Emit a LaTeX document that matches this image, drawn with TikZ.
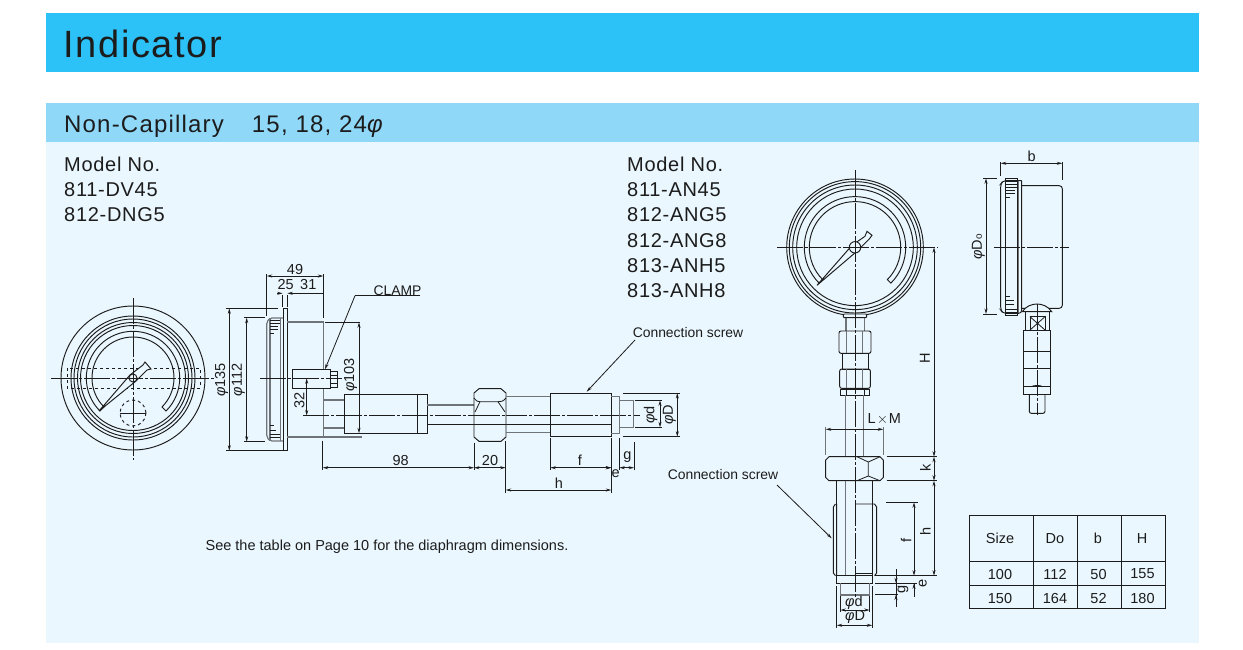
\documentclass[tikz,border=0pt]{standalone}
\usepackage{fontspec}
\setmainfont{Liberation Sans}
\usetikzlibrary{arrows.meta}
\definecolor{barA}{HTML}{2CC2F7}
\definecolor{barB}{HTML}{90D8F8}
\definecolor{panel}{HTML}{EAF7FE}
\definecolor{ink}{HTML}{1C1C1C}
\definecolor{soft}{HTML}{6E7478}
\newcommand{\ph}{{\itshape φ}}
\tikzset{
  lin/.style={draw=ink,line width=0.95pt},
  thin line/.style={draw=ink,line width=0.8pt},
  heavy/.style={draw=soft,line width=1.2pt},
  cl/.style={draw=ink,line width=0.9pt,dash pattern=on 26pt off 2pt on 3pt off 2pt},
  dim/.style={draw=ink,line width=0.8pt,{Stealth[length=5.5pt,width=3pt]}-{Stealth[length=5.5pt,width=3pt]}},
  tip/.style={draw=ink,line width=0.8pt,-{Stealth[length=5.5pt,width=3pt]}},
  lab/.style={text=ink,font=\fontsize{14.5}{14.5}\selectfont,inner sep=0pt},
  rlab/.style={lab,rotate=90},
  small/.style={lab,font=\fontsize{13.9}{13.9}\selectfont},
  model/.style={text=ink,font=\fontsize{20}{25.3}\selectfont\addfontfeature{LetterSpace=3.5},inner sep=0pt,anchor=north west,align=left},
}
\begin{document}
\begin{tikzpicture}[x=1pt,y=-1pt]
\useasboundingbox (0,0) rectangle (1243,649);
\fill[white] (0,0) rectangle (1243,649);
\fill[barA] (46,13) rectangle (1199,72);
\fill[panel] (46,142) rectangle (1199,643);
\fill[barB] (46,103) rectangle (1199,142);
\node[text=ink,font=\fontsize{38}{38}\selectfont\addfontfeature{LetterSpace=4.4},inner sep=0pt,anchor=west] (title) at (63,44) {Indicator};
\node[text=ink,font=\fontsize{24}{24}\selectfont\addfontfeature{LetterSpace=5},inner sep=0pt,anchor=west] (sub) at (64,126) {Non-Capillary\hspace{28pt}15, 18, 24\ph};
\node[model] (m1) at (64,156.5) {Model No.\\811-DV45\\812-DNG5};
\node[model] (m2) at (627,156.5) {Model No.\\811-AN45\\812-ANG5\\812-ANG8\\813-ANH5\\813-ANH8};
\node[lab,anchor=center] (see) at (387,546.5) {See the table on Page 10 for the diaphragm dimensions.};

% ---- left gauge front
\begin{scope}[shift={(133,378)}]
\foreach \r in {72,62,59,55.5,52.5}{\draw[lin] (0,0) circle (\r);}
\draw[lin] (135:46.7) arc (135:405:46.7) -- (45:41) arc (405:135:41) -- cycle;
\draw[lin,dashed] (-66,-10) rectangle (67,10);
\draw[lin,dashed] (0,35) circle (13);
\draw[cl] (0,35) ++(-13,0) -- ++(26,0);
\draw[lin,fill=panel] (-34,33) -- (-3,-3) -- (10,-13) -- (12,-16) -- (18,-9) -- (14,-8) -- (3,3) -- cycle;
\draw[lin,fill=panel] (0,0) circle (4);
\draw[cl] (-82,0) -- (82,0);
\draw[cl] (0,-80) -- (0,82);
\end{scope}

% ---- left gauge side
\draw[lin] (283.3,308.3) rectangle (287.3,450.7);
\draw[heavy,rounded corners=2pt] (283,318) -- (270,318) -- (266.7,322) -- (266.7,437) -- (270,441) -- (283,441);
\draw[heavy] (270,318) -- (270,441) (280.7,318) -- (280.7,441);
\foreach \y/\w in {320/10,323/10,326/8,329/8,333/4,425/4,430/6,434/10,437/10}{\draw[thin line] (270,\y) -- ++(\w,0);}
\draw[heavy] (287.3,322) -- (323.3,322) -- (323.3,437) -- (287.3,437);
\draw[lin,fill=panel] (292,369) rectangle (330,388);
\draw[lin,fill=panel] (330,371) rectangle (337.3,387);
\draw[thin line] (330,375) -- (337.3,375) (330,383) -- (337.3,383);
\draw[cl] (260,378) -- (342,378);
\draw[heavy] (323.3,400) -- (344,400) (323.3,428) -- (344,428);
\draw[lin] (344,394.3) rectangle (427,433);
\draw[thin line] (417.7,394.3) -- (417.7,433);
\draw[cl] (303.3,415.5) -- (640,415.5);
% tube and connector
\draw[heavy] (427,405) -- (474,405);
\draw[lin] (427,424) -- (611,424);
\draw[lin,fill=panel] (479,388.7) -- (501,388.7) -- (506,393) -- (506,437) -- (501,441.3) -- (479,441.3) -- (474,437) -- (474,393) -- cycle;
\draw[thin line] (474,398) .. controls (477,401.7) and (478,401.7) .. (480,401.7) -- (498,401.7) .. controls (501,401.7) and (503,401.7) .. (506,398);
\draw[thin line] (480,401.7) -- (475,412) (498,401.7) -- (505,412);
\draw[cl] (474,415.5) -- (506,415.5);
\draw[lin] (474,424) -- (506,424);
\draw[heavy] (506,396.7) -- (550,396.7) (506,432.7) -- (550,432.7);
\draw[lin] (550,393) rectangle (611,436.3);
\draw[heavy] (611,396.7) -- (619.3,396.7) -- (619.3,433.3) -- (611,433.3);
\draw[heavy] (619.3,400.3) -- (633.3,400.3) -- (633.3,427.3) -- (619.3,427.3);

% left dims
\draw[thin line] (266.7,274) -- (266.7,316) (323.3,274) -- (323.3,318);
\draw[thin line] (282.7,295) -- (282.7,307) (287.3,295) -- (287.3,307);
\draw[dim] (266.7,276) -- (323.3,276);
\draw[tip] (277,293.3) -- (282.7,293.3);
\draw[tip] (323.3,293.3) -- (287.3,293.3);
\node[lab] (d49) at (295,269.5) {49};
\node[lab] (d25) at (285.7,284.5) {25};
\node[lab] (d31) at (308.3,284.5) {31};
\draw[thin line] (226,308.3) -- (278,308.3) (226,450.7) -- (283,450.7);
\draw[thin line] (244,317.7) -- (265,317.7) (244,441.7) -- (265,441.7);
\draw[dim] (229.3,308.3) -- (229.3,450.7);
\draw[dim] (246.7,317.7) -- (246.7,441.7);
\node[rlab] (d135) at (221.5,380) {\ph135};
\node[rlab] (d112) at (238.3,380) {\ph112};
\draw[thin line] (325,322.3) -- (360,322.3);
\draw[heavy] (323,437) -- (361.7,437);
\draw[dim] (359,322.3) -- (359,433.3);
\node[rlab] (d103) at (350.5,375) {\ph103};
\draw[dim] (306.7,378.3) -- (306.7,415.5);
\node[rlab] (d32) at (299.5,400) {32};
\draw[thin line] (322.7,440.7) -- (322.7,470);
\draw[thin line] (474,442.7) -- (474,470) (505.7,441) -- (505.7,493.3);
\draw[thin line] (550.3,438) -- (550.3,470) (611.3,438) -- (611.3,492.7) (619.3,438) -- (619.3,470) (634,442) -- (634,470);
\draw[dim] (322.7,467.7) -- (474,467.7);
\draw[dim] (474,467.7) -- (505.7,467.7);
\draw[dim] (550.3,467.7) -- (611.3,467.7);
\draw[dim] (619.3,467.7) -- (634,467.7);
\draw[tip] (601,467.7) -- (611.3,467.7);
\draw[dim] (505.7,490) -- (611.3,490);
\node[lab] (d98) at (400.7,460) {98};
\node[lab] (d20) at (490,460) {20};
\node[lab] (df) at (580,460) {f};
\node[lab] (dg) at (627.3,457) {g};
\node[lab] (de) at (615.7,474) {e};
\node[lab] (dh) at (559,483.3) {h};
\draw[thin line] (623,393) -- (680,393) (623,436.7) -- (680,436.7);
\draw[thin line] (635,400.3) -- (662,400.3) (635,427.3) -- (662,427.3);
\draw[dim] (660,400.3) -- (660,427.3);
\draw[dim] (677.3,393) -- (677.3,436.7);
\node[rlab] (dd) at (650.5,415) {\ph d};
\node[rlab] (dD) at (669.3,415) {\ph D};
\node[small] (clamp) at (397.5,291) {CLAMP};
\coordinate (clampend) at (420,295.7);
\coordinate (clampknee) at (355,295.7);
\coordinate (clamptip) at (325,369.3);
\draw[thin line] (clampend) -- (clampknee);
\draw[tip] (clampknee) -- (clamptip);
\node[small] (cs1) at (688,333) {Connection screw};
\coordinate (cs1tip) at (586.7,391.7);
\draw[tip] (635,340) -- (cs1tip);

% ---- right gauge front
\begin{scope}[shift={(855,247.3)}]
\foreach \r in {68.3,65.7,62.3,58.3}{\draw[lin] (0,0) circle (\r);}
\draw[lin] (135:50.7) arc (135:405:50.7) -- (45:45.7) arc (405:135:45.7) -- cycle;
\draw[lin,fill=panel] (-38,38) -- (-3,-2) -- (10,-11) -- (12,-16) -- (17,-12) -- (14,-8) -- (3,3) -- cycle;
\draw[lin,fill=panel] (0,0) circle (5.7);
\draw[cl] (-78,0) -- (83,0);
\end{scope}
\draw[lin,fill=panel,rounded corners=1pt] (843.3,314) rectangle (866.7,317.7);
\draw[heavy] (846,317.7) -- (846,331) (864.3,317.7) -- (864.3,331);
\draw[lin,rounded corners=2pt] (839,331) rectangle (871,353.3);
\draw[heavy] (846.7,331) -- (846.7,353.3) (862.7,331) -- (862.7,353.3);
\draw[lin] (842.7,353.3) rectangle (868.3,369);
\draw[lin,rounded corners=2pt] (839.7,369) rectangle (870.3,388.3);
\draw[heavy] (846.7,369) -- (846.7,388.3) (862.7,369) -- (862.7,388.3);
\draw[lin] (840.3,389) rectangle (869.7,395);
\draw[thin line] (846,389) -- (846,395) (864,389) -- (864,395);
\draw[heavy] (845.7,395) -- (845.7,456.7) (863.3,395) -- (863.3,456.7);
% lower fitting
\draw[lin] (829,456.7) -- (880,456.7) -- (883.3,460) -- (883.3,477.5) -- (880,480.7) -- (829,480.7) -- (825.7,477.5) -- (825.7,460) -- cycle;
\draw[thin line] (868.3,462) -- (868.3,476) (857,456.7) -- (868.3,462) -- (880,456.7) (857,480.7) -- (868.3,476) -- (880,480.7);
\draw[lin] (836.7,480.7) -- (836.7,504) (872.7,480.7) -- (872.7,504);
\draw[lin] (835.5,504) -- (833.3,507) -- (833.3,573) -- (835.5,575.7) (836.7,504) -- (836.7,575.7);
\draw[lin] (855.7,504) -- (874.5,504) -- (876.7,507) -- (876.7,573) -- (874.5,575.7);
\draw[lin] (872.7,504) -- (872.7,575.7);
\draw[heavy] (845.7,480.7) -- (845.7,575.7);
\draw[lin] (855.7,573) -- (872.7,573);
\draw[lin] (836.7,575.7) rectangle (872.7,583.3);
\draw[heavy] (840.3,583.3) -- (840.3,595) -- (869.7,595) -- (869.7,583.3);
\draw[cl] (855.7,170) -- (855.7,598);

% right dims
\draw[heavy] (825.7,426.7) -- (825.7,455) (883.3,426.7) -- (883.3,455);
\draw[dim] (825.7,429.3) -- (883.3,429.3);
\node[lab,anchor=west] (lm) at (867.5,419.3) {L\kern1pt{\fontfamily{lmr}\selectfont$\times$}\kern1pt M};
\draw[thin line] (886.7,456.7) -- (936.7,456.7) (886.7,480.7) -- (936.7,480.7) (875,575.7) -- (936.7,575.7);
\draw[dim] (934,247.3) -- (934,456.7);
\draw[dim] (934,456.7) -- (934,480.7);
\draw[dim] (934,480.7) -- (934,575.7);
\node[rlab] (dH) at (925,358) {H};
\node[rlab] (dk) at (925.3,468.3) {k};
\node[rlab] (dh2) at (925.3,531.7) {h};
\draw[thin line] (886,502.3) -- (917.7,502.3);
\draw[dim] (914,502.3) -- (914,575.7);
\node[rlab] (df2) at (906,540) {f};
\draw[thin line] (875,583.3) -- (916.7,583.3) (875,594.5) -- (898,594.5);
\draw[thin line] (914,583.3) -- (914,597.3);
\draw[tip] (914,592) -- (914,583.3);
\node[rlab] (de2) at (922.7,583.3) {e};
\draw[thin line] (896,569) -- (896,606.7);
\draw[tip] (896,574) -- (896,583.3);
\draw[tip] (896,604) -- (896,594.5);
\node[rlab] (dg2) at (903,589) {g};
\draw[thin line] (840.3,596) -- (840.3,612) (869.7,596) -- (869.7,612);
\draw[thin line] (836.7,586) -- (836.7,627.5) (872.3,586) -- (872.3,627.5);
\draw[dim] (840.3,610) -- (869.7,610);
\draw[dim] (836.7,625.3) -- (872.3,625.3);
\node[lab] (dd2) at (854,602.3) {\ph d};
\node[lab] (dD2) at (855,617.3) {\ph D};
\node[small] (cs2) at (723,475) {Connection screw};
\coordinate (cs2start) at (777,485);
\coordinate (cs2tip) at (831.7,538.3);
\draw[tip] (cs2start) -- (cs2tip);

% ---- far right gauge side
\draw[lin,rounded corners=3pt] (1021.7,180.7) -- (1003,180.7) -- (1000.7,184) -- (1000.7,310) -- (1003,313.3) -- (1021.7,313.3) -- (1021.7,180.7);
\draw[lin] (1005.7,178.3) rectangle (1017.3,315.7);
\draw[heavy] (1018.7,180.7) -- (1018.7,313.3);
\foreach \y/\w in {181/11,184/11,187/11,190/9,193/9,197/4,296/4,300/8,304/8,309/11,312/11}{\draw[thin line] (1005.7,\y) -- ++(\w,0);}
\draw[lin,rounded corners=3pt] (1021.7,185.7) -- (1062.3,185.7) -- (1062.3,308.3) -- (1021.7,308.3);
\draw[lin,fill=panel] (1022.3,311.7) .. controls (1026,306) and (1032,304) .. (1037,304) .. controls (1042,304) and (1048,306) .. (1051.7,311.7) -- cycle;
\draw[lin] (1025,311.7) -- (1025,330) (1049,311.7) -- (1049,330);
\draw[lin] (1030,316.7) rectangle (1045,330);
\draw[thin line] (1030,316.7) -- (1045,330) (1045,316.7) -- (1030,330);
\draw[lin] (1023.3,330) rectangle (1050.3,394.3);
\draw[lin] (1023.3,351.7) -- (1050.3,351.7) (1023.3,368.3) -- (1050.3,368.3) (1023.3,386.7) -- (1050.3,386.7);
\draw[thin line] (1031,386.7) .. controls (1034,385) and (1040,385) .. (1043,386.7);
\draw[lin,rounded corners=2pt] (1029.3,394.3) -- (1029.3,413.3) -- (1045,413.3) -- (1045,394.3);
\draw[cl] (994,247.3) -- (1069,247.3);
\draw[cl] (1037.3,304) -- (1037.3,415);
\draw[thin line] (1000.7,162) -- (1000.7,176) (1062.3,162) -- (1062.3,180);
\draw[dim] (1000.7,163.3) -- (1062.3,163.3);
\node[lab] (db) at (1031.7,156.5) {b};
\draw[thin line] (983.3,178.3) -- (996.7,178.3) (983.3,314) -- (996.7,314);
\draw[dim] (986,178.3) -- (986,314);
\node[rlab] (dD0) at (978.3,246.7) {\ph D\kern.5pt{\fontsize{10}{10}\selectfont o}};

% ---- table
\draw[draw=ink,line width=1pt] (969.3,515.7) rectangle (1165.7,608.3);
\draw[draw=ink,line width=1pt] (969.3,561) -- (1165.7,561) (969.3,585.3) -- (1165.7,585.3);
\draw[draw=ink,line width=1pt] (1033.3,515.7) -- (1033.3,608.3) (1077.3,515.7) -- (1077.3,608.3) (1121.3,515.7) -- (1121.3,608.3);
\node[lab] (t00) at (1000,538.3) {Size};
\node[lab] (t01) at (1055,538.3) {Do};
\node[lab] (t02) at (1098,538.3) {b};
\node[lab] (t03) at (1142,538.3) {H};
\node[lab] (t10) at (1000,574) {100};
\node[lab] (t11) at (1055,574) {112};
\node[lab] (t12) at (1098.5,574) {50};
\node[lab] (t13) at (1142.5,574) {155};
\node[lab] (t20) at (1000,598.3) {150};
\node[lab] (t21) at (1055,598.3) {164};
\node[lab] (t22) at (1098.5,598.3) {52};
\node[lab] (t23) at (1142.5,598.3) {180};
\end{tikzpicture}
\end{document}
